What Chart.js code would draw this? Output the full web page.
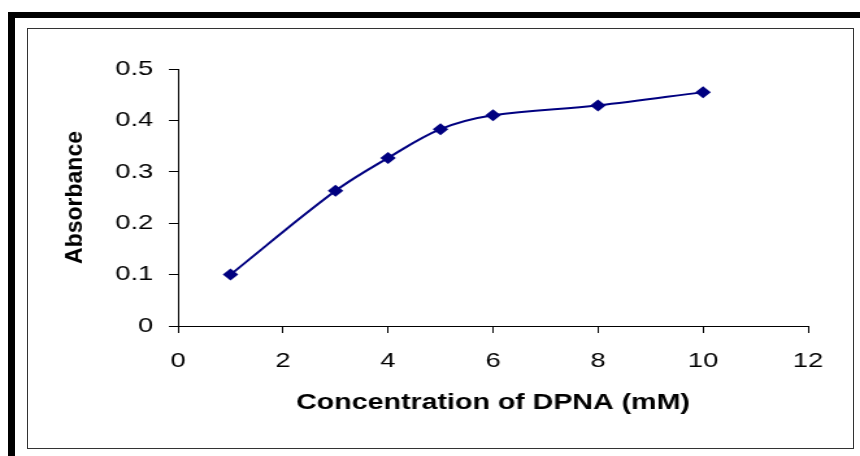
<!DOCTYPE html>
<html>
<head>
<meta charset="utf-8">
<script src="https://cdn.jsdelivr.net/npm/chart.js@4/dist/chart.umd.min.js"></script>
<style>
  html, body { margin: 0; padding: 0; background: #fff; overflow: hidden; width: 860px; height: 456px; }
  #topbar { position: absolute; left: 8px; top: 12px; width: 852px; height: 6px; background: #000; }
  #leftbar { position: absolute; left: 8px; top: 12px; width: 7px; height: 444px; background: #000; }
  #frame { position: absolute; left: 27px; top: 28px; width: 825px; height: 419px; border: 1px solid #333; }
  #wrap { position: absolute; left: 0; top: 0; width: 662px; height: 456px; transform: scaleX(1.2991); transform-origin: 0 0; }
  canvas { display: block; }
</style>
</head>
<body>
<div id="topbar"></div>
<div id="leftbar"></div>
<div id="frame"></div>
<div id="wrap"><canvas id="c" width="662" height="456"></canvas></div>
<script>
const concentration = [1, 3, 4, 5, 6, 8, 10];
const absorbance = [0.100, 0.263, 0.327, 0.383, 0.410, 0.429, 0.455];
const xTitle = 'Concentration of DPNA (mM)';
const yTitle = 'Absorbance';

const FONT = '"Liberation Sans", Arial, Helvetica, sans-serif';
const STRETCH = 1.2991;

// y-axis title drawn unstretched (counteracts the horizontal page stretch)
const yTitlePlugin = {
  id: 'yTitlePlugin',
  afterDraw(chart) {
    const ctx = chart.ctx;
    ctx.save();
    ctx.translate(75 / STRETCH, 197.5);
    ctx.scale(1 / STRETCH, 1);
    ctx.rotate(-Math.PI / 2);
    ctx.font = 'bold 23px ' + FONT;
    ctx.fillStyle = '#000';
    ctx.textAlign = 'center';
    ctx.textBaseline = 'middle';
    ctx.fillText(yTitle, 0, 0);
    ctx.restore();
  }
};

new Chart(document.getElementById('c'), {
  type: 'line',
  data: {
    datasets: [{
      data: concentration.map((x, i) => ({ x: x, y: absorbance[i] })),
      borderColor: '#000080',
      backgroundColor: '#000080',
      borderWidth: 2,
      pointStyle: 'rectRot',
      pointRadius: 6,
      pointBorderWidth: 0,
      tension: 0.35,
      fill: false
    }]
  },
  plugins: [yTitlePlugin],
  options: {
    responsive: false,
    animation: false,
    events: [],
    layout: { padding: { top: 69, right: 40, bottom: 0, left: 0 } },
    plugins: { legend: { display: false }, tooltip: { enabled: false } },
    scales: {
      x: {
        type: 'linear', min: 0, max: 12,
        ticks: { stepSize: 2, color: '#000', font: { family: FONT, size: 21 }, padding: 16, maxRotation: 0 },
        grid: { drawOnChartArea: false, drawTicks: true, tickLength: 7, color: '#000', tickColor: '#000' },
        border: { color: '#000', width: 1 },
        title: { display: true, text: xTitle, color: '#000', font: { family: FONT, size: 22, weight: 'bold' }, padding: { top: 10, bottom: 40 } },
        afterFit: (s) => { s.height = 130; }
      },
      y: {
        type: 'linear', min: 0, max: 0.5,
        ticks: { stepSize: 0.1, color: '#000', font: { family: FONT, size: 21 }, padding: 12 },
        grid: { drawOnChartArea: false, drawTicks: true, tickLength: 7, color: '#000', tickColor: '#000' },
        border: { color: '#000', width: 1 },
        title: { display: false },
        afterFit: (s) => { s.width = 137; }
      }
    }
  }
});
</script>
</body>
</html>
